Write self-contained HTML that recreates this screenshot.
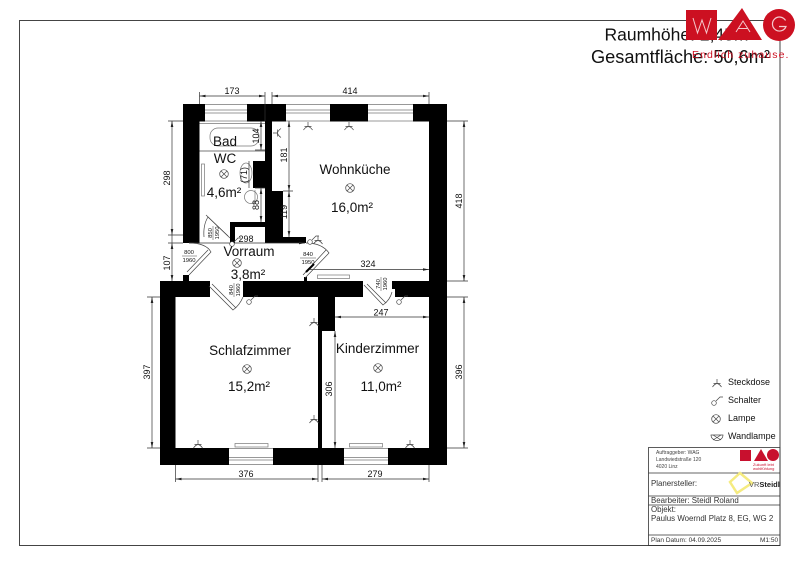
<!DOCTYPE html>
<html><head><meta charset="utf-8"><style>
html,body{margin:0;padding:0;background:#fff}
svg{display:block}
text{font-family:"Liberation Sans",sans-serif;fill:#111}
.w{fill:#000}
.l{stroke:#333;stroke-width:.7;fill:none}
.g{stroke:#777;stroke-width:.7;fill:none}
.s{stroke:#444;stroke-width:.7;fill:none}
.d{font-size:9px;text-anchor:middle}
.r{font-size:13.5px;text-anchor:middle}
.f{font-size:5.9px;text-anchor:middle}
.t{font-size:7.9px;fill:#333}
</style></head><body>
<svg width="800" height="566" viewBox="0 0 800 566" xmlns="http://www.w3.org/2000/svg">
<defs>
<g id="lamp"><circle r="4.3" fill="#fff" stroke="#444" stroke-width=".7"/><path d="M-3-3L3 3M-3 3L3-3" stroke="#444" stroke-width=".7"/></g>
<g id="st"><path d="M0 -4V0.500M-4.500 4Q-2.500 1 0 0.500Q2.500 1 4.500 4M-3.500 0.500H3.500" stroke="#444" stroke-width=".7" fill="none"/></g>
<g id="sw"><circle cx="-2" cy="2" r="2.300" fill="#fff" stroke="#444" stroke-width=".7"/><path d="M0 0L4-4H7" stroke="#444" stroke-width=".7" fill="none"/></g>
</defs>
<rect x="19.500" y="20.500" width="760.500" height="525" fill="none" stroke="#444" stroke-width="1"/>

<!-- walls -->
<g class="w">
<rect x="183" y="104" width="22" height="17.500"/>
<rect x="183" y="104" width="16.500" height="139"/>
<rect x="247" y="104" width="39" height="17.500"/>
<rect x="265" y="121" width="7" height="70"/>
<rect x="253" y="161" width="19" height="27"/>
<rect x="265" y="191" width="18" height="46"/>
<rect x="230" y="222" width="35" height="5"/>
<rect x="230" y="222" width="5" height="21"/>
<rect x="265" y="237" width="41" height="6"/>
<rect x="330" y="104" width="38" height="17.500"/>
<rect x="413" y="104" width="34" height="17.500"/>
<rect x="429" y="104" width="18" height="361"/>
<rect x="160" y="281" width="50" height="16"/>
<rect x="183" y="275" width="6" height="6"/>
<rect x="160" y="281" width="15.500" height="184"/>
<rect x="243" y="281" width="120" height="16"/>
<rect x="304" y="277" width="3" height="5"/>
<rect x="392" y="281" width="55" height="8"/>
<rect x="395" y="288" width="52" height="9"/>
<rect x="318" y="297" width="17" height="34"/>
<rect x="318" y="330" width="4" height="120"/>
<rect x="160" y="448" width="69" height="17"/>
<rect x="273" y="448" width="71" height="17"/>
<rect x="388" y="448" width="59" height="17"/>
</g>

<!-- windows -->
<g class="g">
<path d="M205 104.500H247M205 110H247M205 113H247M205 121H247"/>
<path d="M286 104.500H330M286 110H330M286 113H330M286 121H330"/>
<path d="M368 104.500H413M368 110H413M368 113H413M368 121H413"/>
<path d="M229 448.500H273M229 457.500H273M229 460H273M229 464.500H273"/>
<path d="M344 448.500H388M344 457.500H388M344 460H388M344 464.500H388"/>
<rect x="235" y="443.500" width="33" height="3.500"/>
<rect x="349.500" y="443.500" width="33" height="3.500"/>
<rect x="317.500" y="275" width="32" height="3.500"/>
<rect x="201.500" y="164" width="3" height="32"/>
</g>

<!-- bathroom fixtures -->
<g class="g">
<path d="M199.500 123.500H265"/>
<rect x="210" y="128" width="49" height="18" rx="8"/>
<path d="M199.500 151H265" stroke-width="1"/>
<ellipse cx="246" cy="173" rx="6" ry="10"/>
<ellipse cx="251" cy="197" rx="6.500" ry="6.500"/>
<path d="M255 190V204"/>
</g>

<!-- dimensions -->
<g class="l">
<path d="M199.500 96H265M272 96H429"/>
<path d="M199.500 92V104M265 92V121M272 92V104M429 92V104"/>
<path d="M172 121V281"/>
<path d="M168 121H183M168 235H183M168 243H183"/>
<path d="M152 297V448M147 297H160M147 448H160"/>
<path d="M464 121V281M464 297V448M447 121H468M447 281H468M447 297H468M447 448H468"/>
<path d="M175.500 479H318M322 479H429M175.500 465V482M318 465V482M322 465V482M429 465V482"/>
<path d="M289 121V191M289 191V237M283 191H293"/>
<path d="M261 121V150M261 188V222M255 188H265M255 150H265"/>
<path d="M249 161V188"/>
<path d="M189 243H305"/>
<path d="M310 269.500H429"/>
<path d="M335 317H429"/>
<path d="M335 331V448"/>
</g>
<g fill="#222">
<path d="M199.500 96l6-1.300v2.600zM265 96l-6-1.300v2.600zM272 96l6-1.300v2.600zM429 96l-6-1.300v2.600z"/>
<path d="M172 121l-1.300 6h2.600zM172 235l-1.300-6h2.600zM172 243l-1.300 6h2.600zM172 281l-1.300-6h2.600z"/>
<path d="M152 297l-1.300 6h2.600zM152 448l-1.300-6h2.600z"/>
<path d="M464 121l-1.300 6h2.600zM464 281l-1.300-6h2.600zM464 297l-1.300 6h2.600zM464 448l-1.300-6h2.600z"/>
<path d="M175.500 479l6-1.300v2.600zM318 479l-6-1.300v2.600zM322 479l6-1.300v2.600zM429 479l-6-1.300v2.600z"/>
<path d="M289 121l-1.300 6h2.600zM289 191l-1.300-6h2.600zM289 191l-1.300 6h2.600zM289 237l-1.300-6h2.600z"/>
<path d="M261 121l-1.300 6h2.600zM261 150l-1.300-6h2.600zM261 188l-1.300 6h2.600zM261 222l-1.300-6h2.600z"/>
<path d="M305 243l-6-1.300v2.600zM429 269.500l-6-1.300v2.600zM335 317l6-1.300v2.600zM429 317l-6-1.300v2.600zM335 331l-1.300 6h2.600zM335 448l-1.300-6h2.600z"/>
</g>
<g class="d">
<text x="232" y="94">173</text>
<text x="350" y="94">414</text>
<text x="246" y="242">298</text>
<text x="368" y="267">324</text>
<text x="381" y="315.500">247</text>
<text x="246" y="477">376</text>
<text x="375" y="477">279</text>
<text transform="translate(170,178) rotate(-90)">298</text>
<text transform="translate(170,263) rotate(-90)">107</text>
<text transform="translate(150,372) rotate(-90)">397</text>
<text transform="translate(462,201) rotate(-90)">418</text>
<text transform="translate(462,372) rotate(-90)">396</text>
<text transform="translate(287,155) rotate(-90)">181</text>
<text transform="translate(287,212) rotate(-90)">119</text>
<text transform="translate(259,136) rotate(-90)">104</text>
<text transform="translate(259,205) rotate(-90)">88</text>
<text transform="translate(247,175) rotate(-90)">(71)</text>
<text transform="translate(332,389) rotate(-90)">306</text>
</g>

<!-- doors -->
<g class="s">
<path d="M204 237Q203 225 208 217L228 236"/>
<path d="M206 215L230 238"/>
<path d="M189 243Q206 243 211 252L189 275"/>
<path d="M208 250L187 272"/>
<path d="M306 243Q322 243 329 253L305 278"/>
<path d="M326 250L303 275"/>
<path d="M209 286L233 310A30 30 0 0 0 243 297"/>
<path d="M212 284L236 308"/>
<path d="M364 285L383 305Q390 300 392 292"/>
<path d="M367 284L386 303"/>
</g>
<path d="M306 272L314 264" stroke="#000" stroke-width="2"/>
<g class="f">
<text transform="translate(212,233) rotate(-90)">850</text><path d="M213 226V240" stroke="#444" stroke-width=".5"/><text transform="translate(219,233) rotate(-90)">1950</text>
<text x="189" y="254">800</text><path d="M182 256H197" stroke="#444" stroke-width=".5"/><text x="189" y="262">1960</text>
<text x="308" y="256">840</text><path d="M300 258H316" stroke="#444" stroke-width=".5"/><text x="308" y="264">1950</text>
<text transform="translate(233,290) rotate(-90)">840</text><path d="M234 283V297" stroke="#444" stroke-width=".5"/><text transform="translate(240,290) rotate(-90)">1960</text>
<text transform="translate(380,284) rotate(-90)">740</text><path d="M381 277V291" stroke="#444" stroke-width=".5"/><text transform="translate(387,284) rotate(-90)">1960</text>
</g>

<!-- sockets / switches -->
<use href="#st" x="308" y="126"/>
<use href="#st" x="349" y="126"/>
<use href="#st" x="277" y="133" transform="rotate(-90 277 133)"/>
<use href="#st" x="314" y="322"/>
<use href="#st" x="314" y="419"/>
<use href="#st" x="198" y="444"/>
<use href="#st" x="410" y="444"/>
<use href="#st" x="318" y="240"/>
<use href="#sw" x="312" y="240"/>
<use href="#sw" x="234" y="242"/>
<use href="#sw" x="251" y="300"/>
<use href="#sw" x="401" y="300"/>

<!-- room labels -->
<text class="r" x="225" y="146">Bad</text>
<text class="r" x="225" y="163">WC</text>
<use href="#lamp" x="224" y="174"/>
<text class="r" x="224" y="197">4,6m²</text>
<text class="r" x="355" y="174">Wohnküche</text>
<use href="#lamp" x="350" y="188"/>
<text class="r" x="352" y="212">16,0m²</text>
<text class="r" x="249" y="256">Vorraum</text>
<use href="#lamp" x="237" y="263"/>
<text class="r" x="248" y="279">3,8m²</text>
<text class="r" x="250" y="355">Schlafzimmer</text>
<use href="#lamp" x="247" y="369"/>
<text class="r" x="249" y="391">15,2m²</text>
<text class="r" x="377.500" y="353">Kinderzimmer</text>
<use href="#lamp" x="378" y="368"/>
<text class="r" x="381" y="391">11,0m²</text>

<!-- legend -->
<use href="#st" x="717" y="383"/>
<use href="#sw" x="716" y="401"/>
<use href="#lamp" x="716" y="419"/>
<path d="M711 435H723A6 5.500 0 0 1 711 435ZM713 435L721 440M721 435L713 440" fill="none" stroke="#444" stroke-width=".7"/>
<text x="728" y="385" style="font-size:9px">Steckdose</text>
<text x="728" y="403" style="font-size:9px">Schalter</text>
<text x="728" y="421" style="font-size:9px">Lampe</text>
<text x="728" y="439" style="font-size:9px">Wandlampe</text>

<!-- title block -->
<g fill="none" stroke="#333" stroke-width=".8">
<rect x="648.500" y="447.500" width="131.500" height="98"/>
<path d="M648.500 473H780M648.500 496H780M648.500 505H780M648.500 535H780"/>
</g>
<text x="656" y="454" style="font-size:5px;fill:#444">Auftraggeber: WAG</text>
<text x="656" y="461" style="font-size:5px;fill:#444">Landwiedstraße 120</text>
<text x="656" y="468" style="font-size:5px;fill:#444">4020 Linz</text>
<rect x="740" y="450" width="11" height="11" fill="#c8102e"/>
<path d="M761 449L768 461H754Z" fill="#c8102e"/>
<circle cx="773" cy="455" r="6" fill="#c8102e"/>
<text x="753" y="466" style="font-size:4px;fill:#c8102e">Zukunft lebt</text>
<text x="753" y="470" style="font-size:4px;fill:#c8102e">wohlfühlung</text>
<text class="t" x="651" y="486">Planersteller:</text>
<path d="M730 482L740 473L752 483L737 493Z" fill="none" stroke="#f5eb80" stroke-width="2.500"/>
<text x="749" y="487" style="font-size:7.500px;fill:#555">VR<tspan font-weight="bold" fill="#222">Steidl</tspan></text>
<text class="t" x="651" y="503">Bearbeiter: Steidl Roland</text>
<text class="t" x="651" y="512">Objekt:</text>
<text class="t" x="651" y="521">Paulus Woerndl Platz 8, EG, WG 2</text>
<text x="651" y="542" style="font-size:6.500px;fill:#333">Plan Datum: 04.09.2025</text>
<text x="760" y="542" style="font-size:6.500px;fill:#333">M1:50</text>

<!-- header -->
<text x="604.500" y="40.500" style="font-size:17.500px">Raumhöhe: 2,45m</text>
<text x="591" y="63" style="font-size:18.200px">Gesamtfläche: 50,6m²</text>
<rect x="686" y="10" width="31" height="30" fill="#cc1021"/>
<path d="M742 8L762 40H718Z" fill="#cc1021"/>
<circle cx="779" cy="25" r="16" fill="#cc1021"/>
<path d="M693 18L697.500 33L702 20L706.500 33L711 18" fill="none" stroke="#f4c9cd" stroke-width="1"/>
<path d="M736 32L743 21L750 32M738.500 28.500H747.500" fill="none" stroke="#f4c9cd" stroke-width="1"/>
<path d="M785.500 20.500A7 7 0 1 0 786 26.500H779" fill="none" stroke="#f4c9cd" stroke-width="1.200"/>
<text x="692" y="58" style="font-size:10.500px;fill:#cc1021;letter-spacing:1.100px">Endlich zuhause.</text>
</svg>
</body></html>
